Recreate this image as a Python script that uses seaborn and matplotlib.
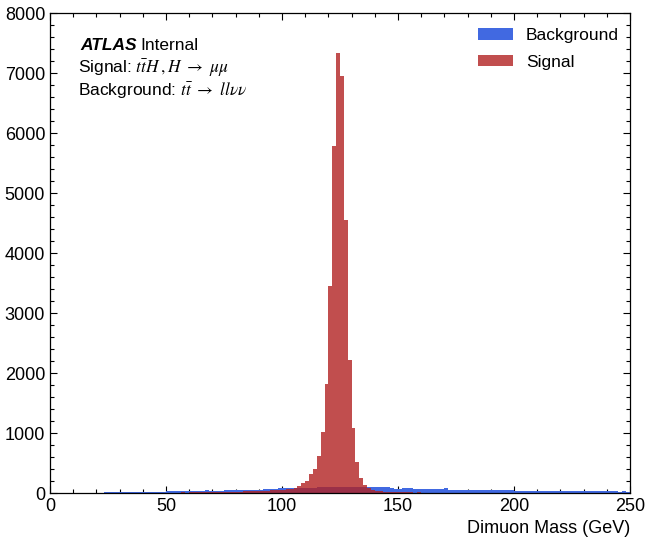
import numpy as np
import pandas as pd
import matplotlib
matplotlib.use("Agg")
import matplotlib.pyplot as plt
from matplotlib.ticker import MultipleLocator
import seaborn as sns

# ---------------- data (counts per 5/3 GeV bin, 0-250 GeV, 150 bins) -------------
mass_min, mass_max, n_bins = 0.0, 250.0, 150

background_counts = (
    [0] * 14
    + [16, 17, 15, 18, 16, 17, 18, 16, 19, 17, 18, 17, 19, 18, 20, 19]
    + [34, 36, 35, 37, 36, 38, 37, 36, 38, 40]
    + [48, 38, 40, 39, 41, 42, 46, 48, 47, 49]
    + [48, 50, 49, 51, 50]
    + [72, 74, 75, 73, 76]
    + [80, 82, 84, 85, 86, 88, 89, 90, 91, 92]
    + [93, 94, 95, 95, 96, 96, 97, 96, 97, 98, 98, 99, 100]
    + [102, 101, 103, 100, 102]
    + [76, 75, 74, 77, 76, 80, 75, 74, 73, 74, 72, 73, 71, 72, 78]
    + [48, 47, 46, 45, 50, 47, 45, 44, 46, 45, 43, 44, 42, 43, 45, 50, 44]
    + [32, 31, 30, 31, 29, 30, 32, 30, 29, 28, 30, 29, 28, 30, 29, 28, 27, 29,
       28, 27, 28, 27, 28, 26, 27, 28, 27]
    + [25, 26, 25]
)

signal_counts = (
    [0] * 33
    + [8, 10, 8, 12, 10, 12, 14]
    + [12, 15, 14, 16, 18, 16, 20, 22, 20, 24]
    + [26, 28, 30, 32, 34, 38, 40, 44, 48, 52]
    + [56, 60]
    + [67, 88, 122, 161, 200, 311, 400, 622, 1022, 1811,
       3450, 5790, 7340, 6950, 4550, 2217, 1089, 512, 245, 133, 80]
    + [50, 36, 26, 20, 16, 14, 12]
    + [10, 12, 9, 10, 8, 9, 7, 8, 6, 7]
    + [5, 6, 5, 4, 5, 4, 3, 4, 3, 3]
    + [0] * 40
)

series_labels = ["Background", "Signal"]
x_label = "Dimuon Mass (GeV)"

# ---------------- plotting ----------------
sns.set_style("ticks")
plt.rcParams["font.family"] = ["Liberation Sans", "DejaVu Sans"]
plt.rcParams["mathtext.fontset"] = "stix"
plt.rcParams["text.color"] = "black"
plt.rcParams["xtick.color"] = "black"
plt.rcParams["ytick.color"] = "black"
plt.rcParams["axes.labelcolor"] = "black"

edges = np.linspace(mass_min, mass_max, n_bins + 1)
centers = 0.5 * (edges[:-1] + edges[1:])
df = pd.DataFrame({"mass": centers,
                   "Background": background_counts,
                   "Signal": signal_counts})

fig = plt.figure(figsize=(6.45, 5.42), dpi=100)
ax = fig.add_axes([50 / 645, 49 / 542, 580 / 645, 480 / 542])

sns.histplot(data=df, x="mass", weights="Background", bins=n_bins,
             binrange=(mass_min, mass_max), ax=ax,
             color="royalblue", alpha=1.0, linewidth=0, label=series_labels[0])
sns.histplot(data=df, x="mass", weights="Signal", bins=n_bins,
             binrange=(mass_min, mass_max), ax=ax,
             color="firebrick", alpha=0.8, linewidth=0,
             label=series_labels[1])

ax.set_xlim(0, 250)
ax.set_ylim(0, 8000)
ax.xaxis.set_major_locator(MultipleLocator(50))
ax.xaxis.set_minor_locator(MultipleLocator(10))
ax.yaxis.set_major_locator(MultipleLocator(1000))
ax.yaxis.set_minor_locator(MultipleLocator(200))
ax.tick_params(which="both", direction="in", top=True, right=True,
               labelsize=13, width=0.8, color="black", labelcolor="black")
ax.tick_params(which="major", length=5)
ax.tick_params(which="minor", length=3)
for s in ax.spines.values():
    s.set_linewidth(0.9)
    s.set_color("black")

ax.set_ylabel("")
ax.set_xlabel(x_label, fontsize=13, loc="right", labelpad=4)

# ATLAS label block
ax.text(0.0517, 0.9235, "ATLAS", transform=ax.transAxes, fontsize=12.5,
        fontweight="bold", fontstyle="italic", va="baseline", ha="left")
ax.text(0.1564, 0.9235, "Internal", transform=ax.transAxes, fontsize=12.5,
        va="baseline", ha="left")
ax.text(0.0489, 0.874, r"Signal: $t\bar{t}H\,,H\ \rightarrow\ \mu\mu$",
        transform=ax.transAxes, fontsize=12.5, va="baseline", ha="left")
ax.text(0.0477, 0.828, r"Background: $t\bar{t}\ \rightarrow\ ll\nu\nu$",
        transform=ax.transAxes, fontsize=12.5, va="baseline", ha="left")

ax.legend(loc="upper left", bbox_to_anchor=(0.738, 0.968), frameon=False,
          fontsize=12.5, handlelength=2.0, handleheight=0.65,
          handletextpad=0.75, labelspacing=0.65, borderpad=0, borderaxespad=0)

fig.savefig("out.png", dpi=100)
